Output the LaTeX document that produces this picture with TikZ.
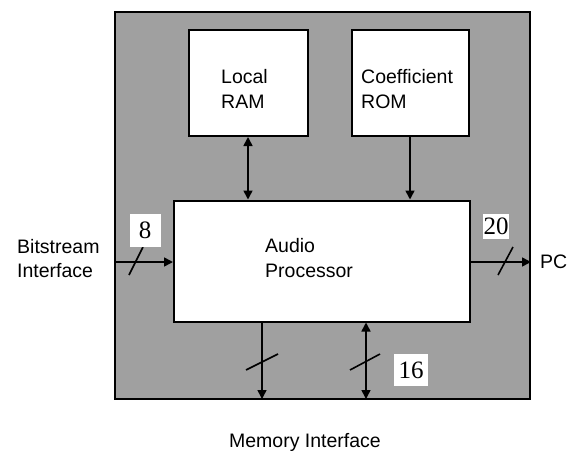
\documentclass[tikz,border=0pt]{standalone}
\usepackage{fontspec}
\setmainfont{Liberation Sans}
\newfontfamily\numfont{Liberation Serif}
\usetikzlibrary{arrows.meta}
\definecolor{chipgrey}{RGB}{160,160,160}
\tikzset{
  blockbox/.style={draw=black, line width=2pt, fill=white, inner sep=0pt},
  lbl/.style={font=\fontsize{19.5}{22}\selectfont, inner sep=0pt, anchor=base west},
  numlbl/.style={fill=white, font=\numfont\fontsize{25}{25}\selectfont, inner sep=0pt},
  sig/.style={line width=1.6pt, -{Triangle[length=9pt,width=9pt]}},
  bisig/.style={line width=1.6pt, {Triangle[length=9pt,width=9pt]}-{Triangle[length=9pt,width=9pt]}},
  slashln/.style={line width=1.6pt}
}
\begin{document}
\begin{tikzpicture}[x=1pt,y=-1pt]
\useasboundingbox (0,0) rectangle (573,450);
\node[draw=black, line width=2pt, fill=chipgrey, minimum width=415pt, minimum height=387pt, inner sep=0pt] (chip) at (322.5,205.5) {};
\node[blockbox, minimum width=119pt, minimum height=106pt] (ram) at (248,83) {};
\node[blockbox, minimum width=117pt, minimum height=106pt] (rom) at (410,83) {};
\node[blockbox, minimum width=296pt, minimum height=121pt] (proc) at (322,261) {};
% texts
\node[lbl] (t1) at (221,83) {Local};
\node[lbl] (t2) at (221,108) {RAM};
\node[lbl] (t3) at (361,83) {Coefficient};
\node[lbl] (t4) at (361,108) {ROM};
\node[lbl] (t5) at (265,252) {Audio};
\node[lbl] (t6) at (265,277) {Processor};
\node[lbl] (t7) at (17,253) {Bitstream};
\node[lbl] (t8) at (17,277) {Interface};
\node[lbl] (t9) at (540,268) {PC};
\node[lbl, anchor=base] (t10) at (305,447) {Memory Interface};
% connectors
\draw[bisig] (ram.south) -- (ram.south |- proc.north);
\draw[sig] (rom.south) -- (rom.south |- proc.north);
\coordinate (bin) at (chip.west |- 0,262);
\coordinate (pout) at (chip.east |- 0,262);
\draw[sig] (bin) -- (proc.west |- bin);
\draw[sig] (proc.east |- pout) -- (pout);
\coordinate (m1) at (262,399);
\coordinate (m2) at (366,399);
\draw[sig] (proc.south -| m1) -- (m1);
\draw[bisig] (proc.south -| m2) -- (m2);
% bus slashes
\coordinate (s1a) at (129,275); \coordinate (s1b) at (143,247);
\coordinate (s2a) at (498,275); \coordinate (s2b) at (513,247);
\coordinate (s3a) at (246,370); \coordinate (s3b) at (278,354);
\coordinate (s4a) at (350,370); \coordinate (s4b) at (380,354);
\draw[slashln] (s1a) -- (s1b);
\draw[slashln] (s2a) -- (s2b);
\draw[slashln] (s3a) -- (s3b);
\draw[slashln] (s4a) -- (s4b);
% width labels
\node[numlbl, minimum width=31pt, minimum height=33pt] (n8) at (145,230) {8};
\node[numlbl, minimum width=26pt, minimum height=25pt] (n20) at (496,226) {20};
\node[numlbl, minimum width=34pt, minimum height=32pt] (n16) at (411,370) {16};
\end{tikzpicture}
\end{document}
